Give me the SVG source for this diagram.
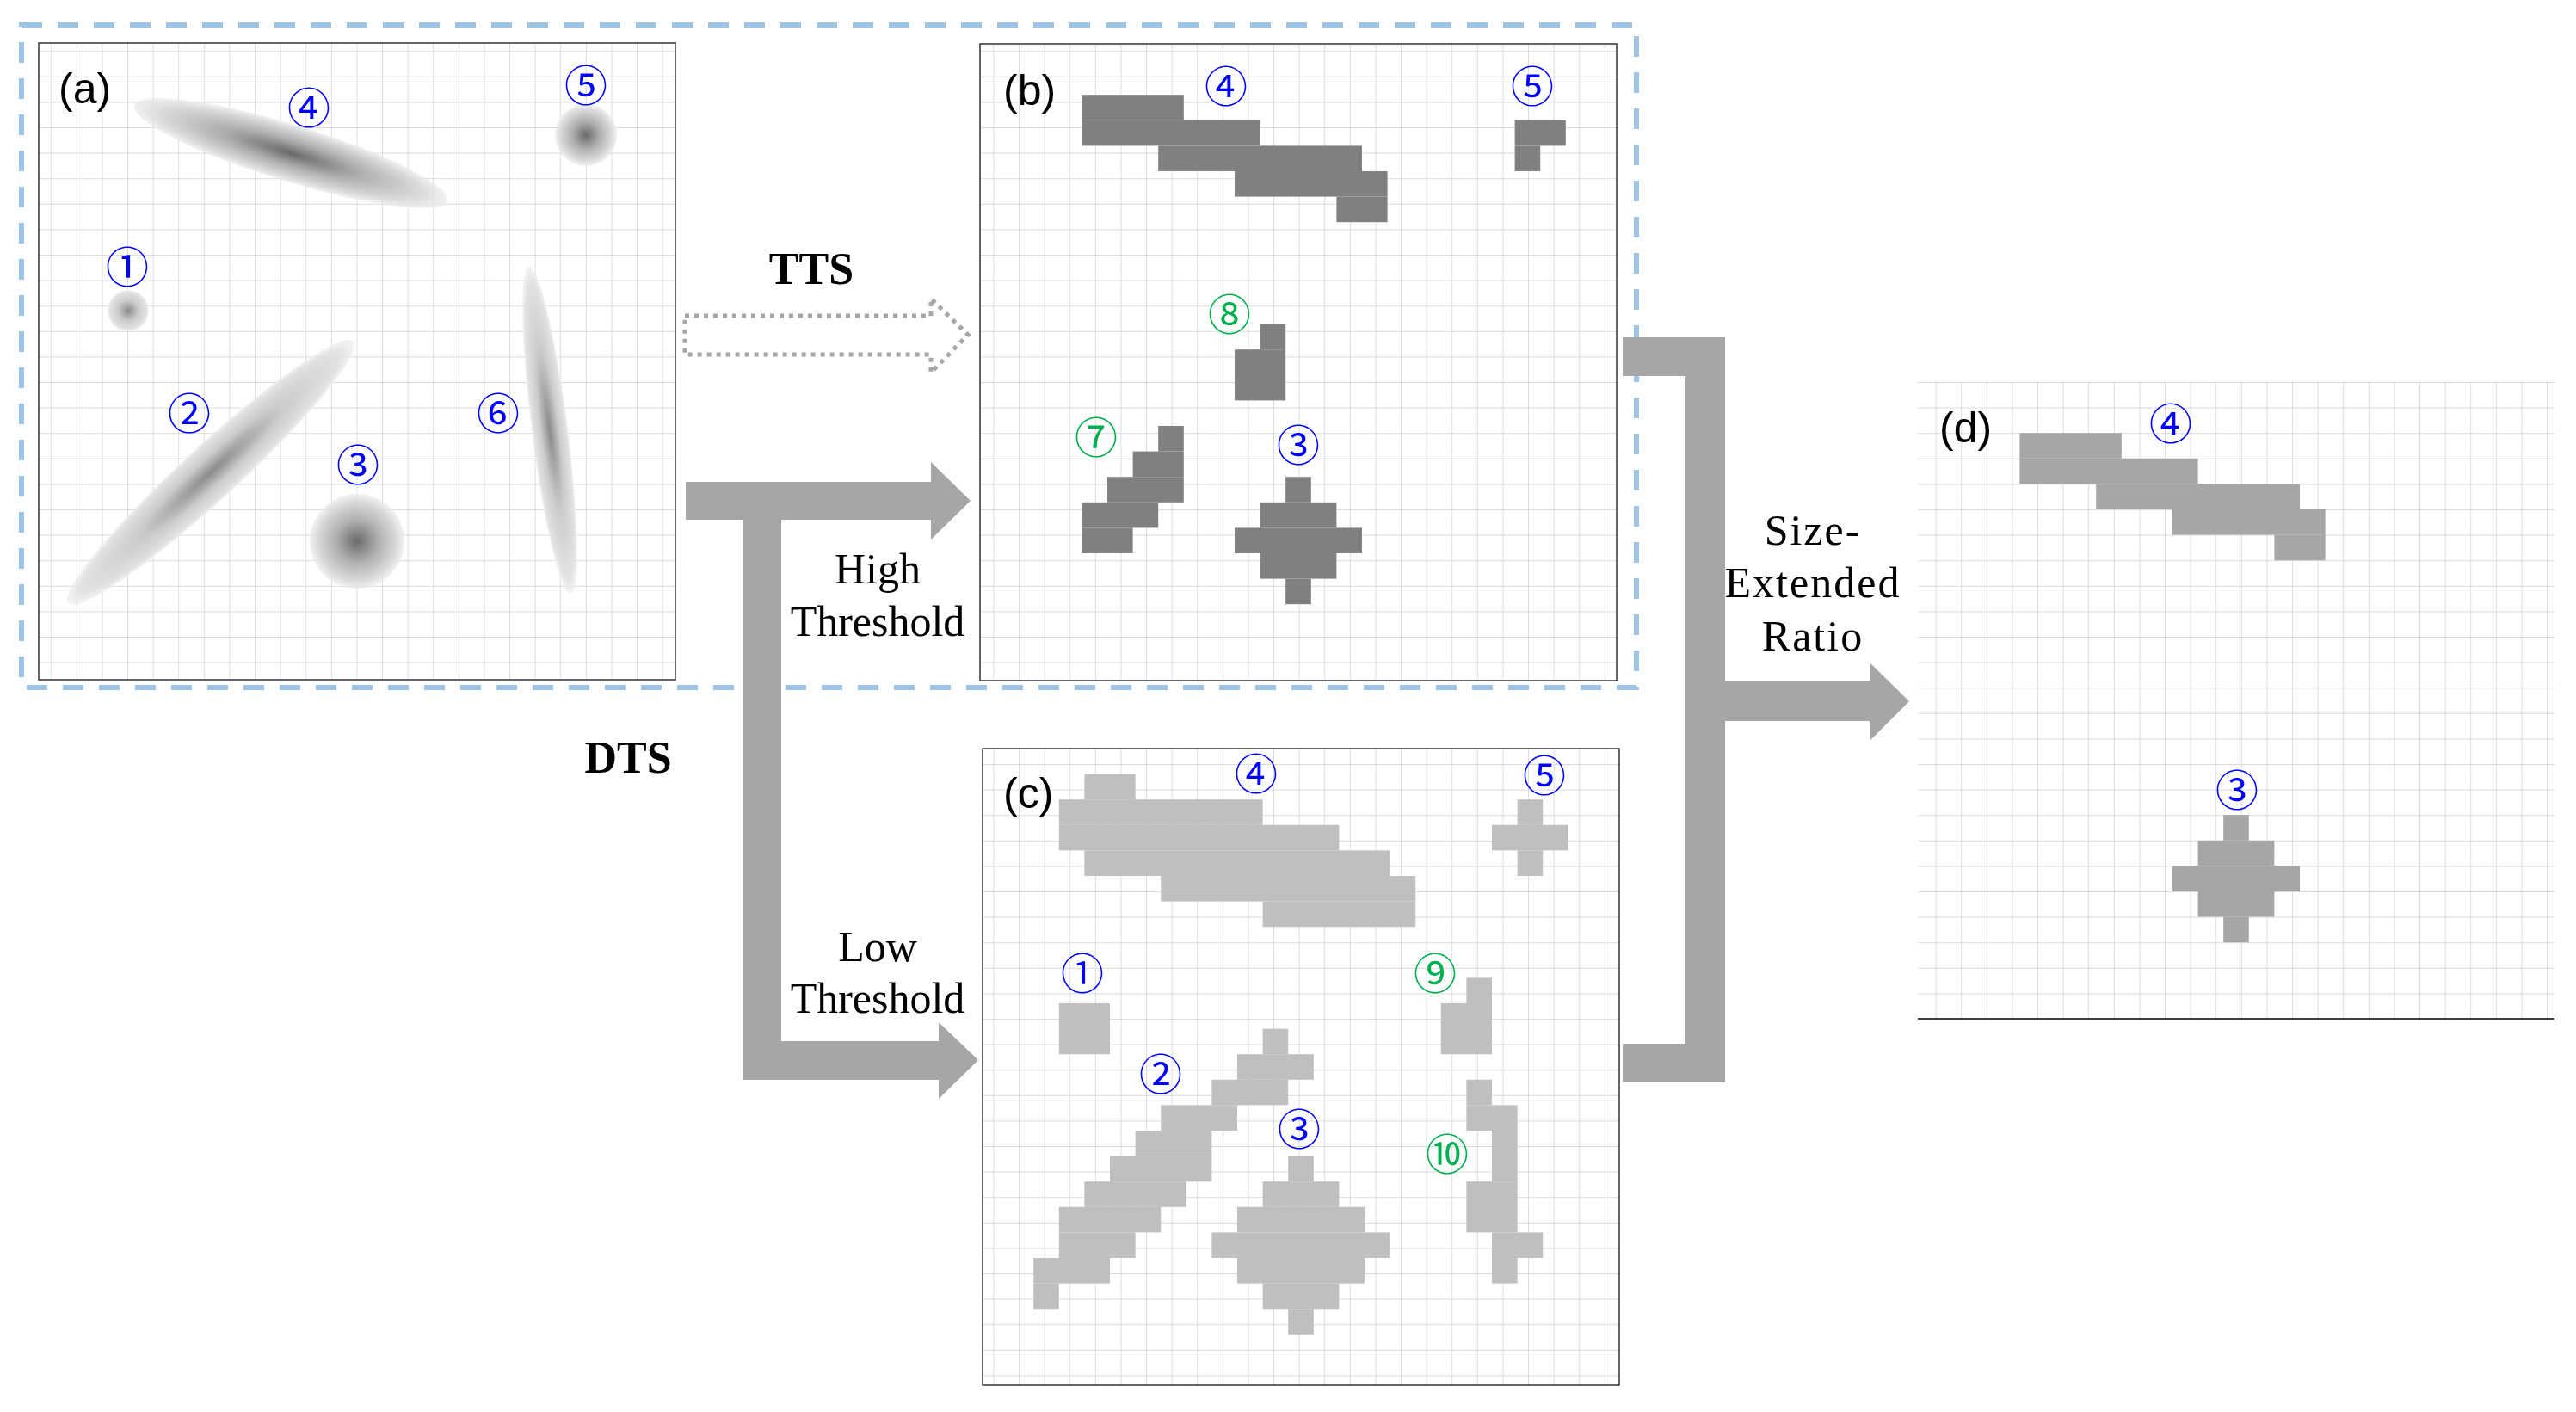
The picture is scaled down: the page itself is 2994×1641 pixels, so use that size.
<svg xmlns="http://www.w3.org/2000/svg" width="2994" height="1641" viewBox="0 0 2994 1641">
<style>
.num{font-family:"Noto Sans CJK SC","DejaVu Sans",sans-serif;font-size:50px;text-anchor:middle;dominant-baseline:central}
.blue{fill:#0000ff}.green{fill:#00b050}
.plab{font-family:"Liberation Sans",Arial,sans-serif;font-size:50px;fill:#000}
.tx{font-family:"Liberation Serif","Times New Roman",serif;font-size:50px;fill:#000;text-anchor:middle}
.bold{font-weight:bold;font-size:52px}
.border{fill:none;stroke:#333;stroke-width:1.5}
.arrow{fill:#a6a6a6}
</style>
<defs>
<pattern id="grid" patternUnits="userSpaceOnUse" width="29.6" height="29.6">
<path d="M0 0H29.6M0 0V29.6" fill="none" stroke="#cfcfcf" stroke-width="1.4"/>
</pattern>
<radialGradient id="blob">
<stop offset="0" stop-color="#6a6a6a"/>
<stop offset="0.45" stop-color="#b0b0b0"/>
<stop offset="0.85" stop-color="#dcdcdc"/>
<stop offset="1" stop-color="#e8e8e8" stop-opacity="0.6"/>
</radialGradient>
<radialGradient id="blobL">
<stop offset="0" stop-color="#8a8a8a"/>
<stop offset="0.5" stop-color="#cccccc"/>
<stop offset="0.9" stop-color="#e2e2e2"/>
<stop offset="1" stop-color="#ececec" stop-opacity="0.6"/>
</radialGradient>
</defs>
<rect width="2994" height="1641" fill="#fff"/>
<rect x="25" y="29" width="1877" height="770" fill="none" stroke="#9dc3e6" stroke-width="6" stroke-dasharray="24 18"/>

<g id="panel-a">
<rect x="45" y="50" width="740" height="740" fill="url(#grid)"/>
<rect x="45" y="50" width="740" height="740" class="border"/>
<ellipse cx="338" cy="178" rx="190" ry="33" fill="url(#blob)" transform="rotate(17 338 178)"/>
<ellipse cx="245" cy="549" rx="225" ry="32" fill="url(#blobL)" transform="rotate(-42.6 245 549)"/>
<ellipse cx="639" cy="500" rx="192" ry="21" fill="url(#blobL)" transform="rotate(82.8 639 500)"/>
<circle cx="415" cy="629" r="55" fill="url(#blob)"/>
<circle cx="681" cy="157" r="36" fill="url(#blob)"/>
<circle cx="149" cy="361" r="24" fill="url(#blobL)"/>
<text class="plab" x="68" y="120">(a)</text>
<text class="num blue" x="359" y="122">④</text>
<text class="num blue" x="681" y="96">⑤</text>
<text class="num blue" x="148" y="307">①</text>
<text class="num blue" x="220" y="477">②</text>
<text class="num blue" x="579" y="477">⑥</text>
<text class="num blue" x="416" y="537">③</text>
</g>

<g id="panel-b">
<rect x="1139" y="51" width="740" height="740" fill="url(#grid)"/>
<g transform="translate(1139 51)" fill="#808080">
<rect x="118.4" y="59.2" width="118.4" height="29.6"/>
<rect x="118.4" y="88.8" width="207.2" height="29.6"/>
<rect x="207.2" y="118.4" width="236.8" height="29.6"/>
<rect x="296" y="148" width="177.6" height="29.6"/>
<rect x="414.4" y="177.6" width="59.2" height="29.6"/>
<rect x="621.6" y="88.8" width="59.2" height="29.6"/>
<rect x="621.6" y="118.4" width="29.6" height="29.6"/>
<rect x="325.6" y="325.6" width="29.6" height="29.6"/>
<rect x="296" y="355.2" width="59.2" height="59.2"/>
<rect x="207.2" y="444" width="29.6" height="29.6"/>
<rect x="177.6" y="473.6" width="59.2" height="29.6"/>
<rect x="148" y="503.2" width="88.8" height="29.6"/>
<rect x="118.4" y="532.8" width="88.8" height="29.6"/>
<rect x="118.4" y="562.4" width="59.2" height="29.6"/>
<rect x="355.2" y="503.2" width="29.6" height="29.6"/>
<rect x="325.6" y="532.8" width="88.8" height="29.6"/>
<rect x="296" y="562.4" width="148" height="29.6"/>
<rect x="325.6" y="592" width="88.8" height="29.6"/>
<rect x="355.2" y="621.6" width="29.6" height="29.6"/>
</g>
<rect x="1139" y="51" width="740" height="740" class="border"/>
<text class="plab" x="1166" y="122">(b)</text>
<text class="num blue" x="1425" y="97">④</text>
<text class="num blue" x="1781" y="97">⑤</text>
<text class="num green" x="1429" y="362">⑧</text>
<text class="num green" x="1274" y="505">⑦</text>
<text class="num blue" x="1509" y="514">③</text>
</g>

<g id="panel-c">
<rect x="1142" y="870" width="740" height="740" fill="url(#grid)"/>
<g transform="translate(1142 870)" fill="#bfbfbf">
<rect x="118.4" y="29.6" width="59.2" height="29.6"/>
<rect x="88.8" y="59.2" width="236.8" height="29.6"/>
<rect x="88.8" y="88.8" width="325.6" height="29.6"/>
<rect x="118.4" y="118.4" width="355.2" height="29.6"/>
<rect x="207.2" y="148" width="296" height="29.6"/>
<rect x="325.6" y="177.6" width="177.6" height="29.6"/>
<rect x="621.6" y="59.2" width="29.6" height="29.6"/>
<rect x="592" y="88.8" width="88.8" height="29.6"/>
<rect x="621.6" y="118.4" width="29.6" height="29.6"/>
<rect x="88.8" y="296" width="59.2" height="59.2"/>
<rect x="562.4" y="266.4" width="29.6" height="29.6"/>
<rect x="532.8" y="296" width="59.2" height="59.2"/>
<rect x="562.4" y="384.8" width="29.6" height="29.6"/>
<rect x="562.4" y="414.4" width="59.2" height="29.6"/>
<rect x="592" y="444" width="29.6" height="59.2"/>
<rect x="562.4" y="503.2" width="59.2" height="59.2"/>
<rect x="592" y="562.4" width="59.2" height="29.6"/>
<rect x="592" y="592" width="29.6" height="29.6"/>
<rect x="325.6" y="325.6" width="29.6" height="29.6"/>
<rect x="296" y="355.2" width="88.8" height="29.6"/>
<rect x="266.4" y="384.8" width="88.8" height="29.6"/>
<rect x="207.2" y="414.4" width="88.8" height="29.6"/>
<rect x="177.6" y="444" width="88.8" height="29.6"/>
<rect x="148" y="473.6" width="118.4" height="29.6"/>
<rect x="118.4" y="503.2" width="118.4" height="29.6"/>
<rect x="88.8" y="532.8" width="118.4" height="29.6"/>
<rect x="88.8" y="562.4" width="88.8" height="29.6"/>
<rect x="59.2" y="592" width="88.8" height="29.6"/>
<rect x="59.2" y="621.6" width="29.6" height="29.6"/>
<rect x="355.2" y="473.6" width="29.6" height="29.6"/>
<rect x="325.6" y="503.2" width="88.8" height="29.6"/>
<rect x="296" y="532.8" width="148" height="29.6"/>
<rect x="266.4" y="562.4" width="207.2" height="29.6"/>
<rect x="296" y="592" width="148" height="29.6"/>
<rect x="325.6" y="621.6" width="88.8" height="29.6"/>
<rect x="355.2" y="651.2" width="29.6" height="29.6"/>
</g>
<rect x="1142" y="870" width="740" height="740" class="border"/>
<text class="plab" x="1166" y="939">(c)</text>
<text class="num blue" x="1460" y="896">④</text>
<text class="num blue" x="1795" y="898">⑤</text>
<text class="num blue" x="1258" y="1128">①</text>
<text class="num green" x="1668" y="1128">⑨</text>
<text class="num blue" x="1349" y="1245">②</text>
<text class="num blue" x="1510" y="1309">③</text>
<text class="num green" x="1682" y="1338">⑩</text>
</g>

<g id="panel-d">
<rect x="2229" y="444" width="740" height="740" fill="url(#grid)"/>
<g transform="translate(2229 444)" fill="#a6a6a6">
<rect x="118.4" y="59.2" width="118.4" height="29.6"/>
<rect x="118.4" y="88.8" width="207.2" height="29.6"/>
<rect x="207.2" y="118.4" width="236.8" height="29.6"/>
<rect x="296" y="148" width="177.6" height="29.6"/>
<rect x="414.4" y="177.6" width="59.2" height="29.6"/>
<rect x="355.2" y="503.2" width="29.6" height="29.6"/>
<rect x="325.6" y="532.8" width="88.8" height="29.6"/>
<rect x="296" y="562.4" width="148" height="29.6"/>
<rect x="325.6" y="592" width="88.8" height="29.6"/>
<rect x="355.2" y="621.6" width="29.6" height="29.6"/>
</g>
<line x1="2229" y1="1184" x2="2969" y2="1184" stroke="#000" stroke-width="1.5"/>
<text class="plab" x="2254" y="514">(d)</text>
<text class="num blue" x="2523" y="489">④</text>
<text class="num blue" x="2600" y="915">③</text>
</g>

<g id="connectors">
<path d="M796 367H1082V347L1125 389L1082 433V412H796Z" fill="none" stroke="#a6a6a6" stroke-width="5" stroke-dasharray="5 6"/>
<path class="arrow" d="M797 560H1082V537L1128 582L1082 627V604H908V1210H1091V1188L1137 1232L1091 1277V1255H863V604H797Z"/>
<path class="arrow" d="M1886 392H2005V792H2173V770L2219 815L2173 861V838H2005V1258H1886V1213H1959V437H1886Z"/>
</g>

<g id="labels">
<text class="tx bold" x="943" y="330">TTS</text>
<text class="tx bold" x="730" y="898">DTS</text>
<text class="tx" x="1020" y="678">High</text>
<text class="tx" x="1020" y="739">Threshold</text>
<text class="tx" x="1020" y="1117">Low</text>
<text class="tx" x="1020" y="1177">Threshold</text>
<text class="tx" x="2107" y="633" letter-spacing="2">Size-</text>
<text class="tx" x="2107" y="694" letter-spacing="2">Extended</text>
<text class="tx" x="2107" y="756" letter-spacing="2">Ratio</text>
</g>
</svg>
